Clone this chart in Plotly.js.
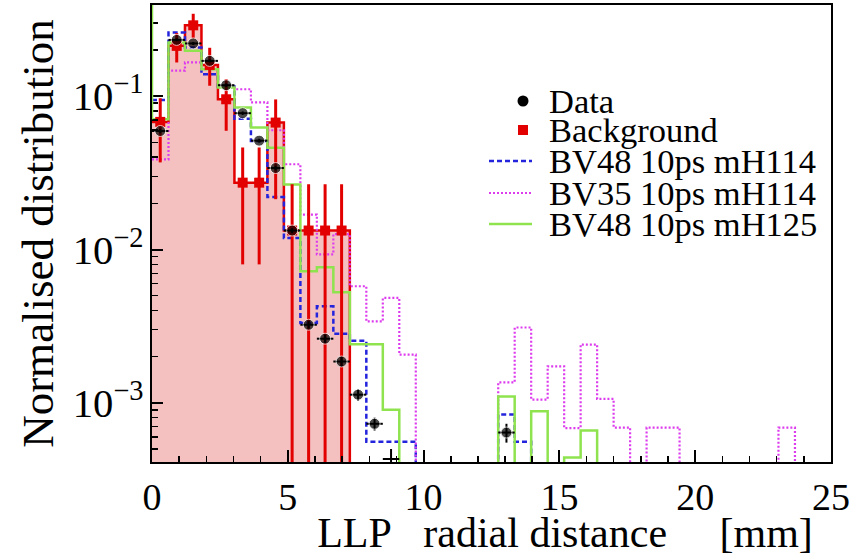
<!DOCTYPE html>
<html><head><meta charset="utf-8">
<script src="https://cdn.plot.ly/plotly-3.0.1.min.js"></script>
<style>html,body{margin:0;padding:0;background:#fff}</style>
</head><body><div id="chart" style="width:852px;height:556px"></div>
<script>
// ---- data ----
const BIN_WIDTH = 0.607;   // histogram bin width [mm]
const N_BINS = 41;

// Data points: bin index, normalised value, stat. error
const dataBins   = [0, 1, 2, 3, 4, 5, 6, 7, 8, 9, 10, 11, 12, 13, 14, 21];
const dataValues = [0.0593, 0.233, 0.221, 0.170, 0.118, 0.0775, 0.0513, 0.034, 0.0133, 0.00323, 0.00262, 0.00186, 0.00113, 0.00073, 0.00043, 0.00064];
const dataErrors = [0.002, 0.005, 0.005, 0.004, 0.003, 0.002, 0.0015, 0.0012, 0.0005, 0.00018, 0.00016, 0.00014, 0.0001, 0.00007, 0.00007, 0.00009];
const dataMarkerSizes = [11, 11, 11, 11, 11, 11, 11, 11, 11, 11, 11, 11, 11, 11, 0, 11];

// Background: bin index, value, asymmetric errors
const bkgBins    = [0, 1, 2, 3, 4, 5, 6, 7, 8, 9, 10, 11];
const bkgValues  = [0.068, 0.213, 0.29, 0.16, 0.0955, 0.0273, 0.0273, 0.0673, 0.0133, 0.0133, 0.0133, 0.0133];
const bkgErrUp   = [0.029, 0.045, 0.055, 0.047, 0.034, 0.019, 0.019, 0.028, 0.0134, 0.0134, 0.0134, 0.0134];
const bkgErrDown = [0.031, 0.047, 0.052, 0.043, 0.036, 0.0193, 0.0193, 0.046, 0.0134, 0.0134, 0.0134, 0.0134];

// Signal histograms, one value per bin (0 = empty bin)
const bv48mH114 = [0.0946, 0.26, 0.208, 0.139, 0.1155, 0.0714, 0.0511, 0.022, 0.0119, 0.00332,
                   0.00426, 0.00282, 0.00254, 0.000558, 0.000558, 0.000558, 0, 0, 0, 0,
                   0, 0.00084, 0.000558, 0, 0, 0, 0, 0, 0, 0,
                   0, 0, 0, 0, 0, 0, 0, 0, 0, 0, 0];
const bv35mH114 = [0.0387, 0.147, 0.166, 0.15, 0.114, 0.111, 0.0911, 0.06, 0.036, 0.0169,
                   0.0093, 0.0126, 0.00576, 0.0034, 0.00483, 0.00206, 0, 0, 0, 0,
                   0, 0.00136, 0.0031, 0.00105, 0.00173, 0.000684, 0.0024, 0.00106, 0.00069, 0,
                   0.00069, 0.00069, 0, 0, 0, 0, 0, 0, 0.00069, 0, 0];
const bv48mH125 = [0.0708, 0.224, 0.198, 0.15, 0.114, 0.0843, 0.0624, 0.0462, 0.0266, 0.00721,
                   0.00766, 0.00526, 0.00241, 0.00241, 0.0009, 0, 0, 0, 0, 0,
                   0, 0.0011, 0, 0.00088, 0, 0.00044, 0.00066, 0, 0, 0,
                   0, 0, 0, 0, 0, 0, 0, 0, 0, 0, 0];

const legendLabels = ['Data', 'Background', 'BV48 10ps mH114', 'BV35 10ps mH114', 'BV48 10ps mH125'];
const NB = '\u00a0';
const xTitleText = '\u200b' + NB.repeat(14) + 'LLP' + NB.repeat(3) + 'radial distance' + NB.repeat(5) + '[mm]';
const yTitleText = 'Normalised distribution';

// ---- styling ----
const FONT = "'Liberation Serif', 'Times New Roman', Times, serif";
const RED = '#e20000';
const PINK = 'rgb(245,192,192)';
const BLUE = '#2424dd';
const MAGENTA = '#dd3cee';
const GREEN = '#8fe34f';
const FLOOR = 1e-9;

function center(i) { return (i + 0.5) * BIN_WIDTH; }
function padBins(bins, vals) {
  const out = new Array(N_BINS).fill(0);
  bins.forEach((b, k) => { out[b] = vals[k]; });
  return out;
}
function stepXY(vals) {
  const xs = [], ys = [];
  for (let i = 0; i < N_BINS; i++) {
    xs.push(i * BIN_WIDTH);
    ys.push(vals[i] > 0 ? vals[i] : FLOOR);
  }
  xs.push(N_BINS * BIN_WIDTH);
  ys.push(ys[ys.length - 1]);
  return {x: xs, y: ys};
}

const bkgFull = padBins(bkgBins, bkgValues);
const bkgStep = stepXY(bkgFull);
const s1 = stepXY(bv48mH114), s2 = stepXY(bv35mH114), s3 = stepXY(bv48mH125);

const traces = [
  {type: 'bar', x: bkgBins.map(center), y: bkgValues, width: BIN_WIDTH,
   marker: {color: PINK, line: {width: 0}}, showlegend: false, hoverinfo: 'skip', name: 'Background fill'},
  {type: 'scatter', mode: 'lines', x: bkgStep.x, y: bkgStep.y, line: {color: RED, width: 2.5, shape: 'hv'},
   showlegend: false, name: 'Background outline'},
  {type: 'scatter', mode: 'lines', x: s1.x, y: s1.y, name: legendLabels[2],
   line: {color: BLUE, width: 2.5, shape: 'hv', dash: '5px,3px'}, showlegend: false},
  {type: 'scatter', mode: 'lines', x: s2.x, y: s2.y, name: legendLabels[3],
   line: {color: MAGENTA, width: 2.2, shape: 'hv', dash: '2px,2px'}, showlegend: false},
  {type: 'scatter', mode: 'lines', x: s3.x, y: s3.y, name: legendLabels[4],
   line: {color: GREEN, width: 2.5, shape: 'hv'}, showlegend: false},
  {type: 'scatter', mode: 'markers', x: bkgBins.map(center), y: bkgValues, name: legendLabels[1],
   marker: {symbol: 'square', size: 10, color: RED},
   error_y: {type: 'data', symmetric: false, array: bkgErrUp, arrayminus: bkgErrDown, color: RED, thickness: 3, width: 0},
   showlegend: false},
  {type: 'scatter', mode: 'markers', x: dataBins.map(center), y: dataValues, name: legendLabels[0],
   marker: {symbol: 'circle', size: dataMarkerSizes, color: 'black'},
   error_y: {type: 'data', array: dataErrors, color: 'black', thickness: 2, width: 0},
   error_x: {type: 'constant', value: BIN_WIDTH / 2, color: 'black', thickness: 2, width: 0},
   showlegend: false}
];

// ---- layout ----
const L = 152, R = 21, T = 5, B = 94, W = 852, H = 556;
const PW = W - L - R, PH = H - T - B;
const px2x = p => (p - L) / PW;
const px2y = p => (H - B - p) / PH;

const legendRowY = [101, 130, 161, 193, 224];
const legendTextX = 547, legendSymX = 523, legendLineX0 = 489, legendLineX1 = 532;

const annotations = legendLabels.map((t, i) => ({
  xref: 'paper', yref: 'paper', x: px2x(legendTextX), y: px2y(legendRowY[i]),
  xanchor: 'left', yanchor: 'middle', text: t, showarrow: false,
  font: {family: FONT, size: 34.5, color: 'black'}
}));

const shapes = [
  {type: 'line', xref: 'x', yref: 'y', x0: 0, x1: 0, y0: bv48mH125[0], y1: 1,
   line: {color: GREEN, width: 2.5}, layer: 'above'},
  {type: 'circle', xref: 'paper', yref: 'paper', xsizemode: 'pixel', ysizemode: 'pixel',
   xanchor: px2x(legendSymX), yanchor: px2y(legendRowY[0]), x0: -5.5, x1: 5.5, y0: -5.5, y1: 5.5,
   fillcolor: 'black', line: {width: 0}},
  {type: 'rect', xref: 'paper', yref: 'paper', xsizemode: 'pixel', ysizemode: 'pixel',
   xanchor: px2x(legendSymX), yanchor: px2y(legendRowY[1]), x0: -5, x1: 5, y0: -5, y1: 5,
   fillcolor: RED, line: {width: 0}},
  {type: 'line', xref: 'paper', yref: 'paper', x0: px2x(legendLineX0), x1: px2x(legendLineX1),
   y0: px2y(legendRowY[2]), y1: px2y(legendRowY[2]), line: {color: BLUE, width: 2.5, dash: '5px,3px'}},
  {type: 'line', xref: 'paper', yref: 'paper', x0: px2x(legendLineX0), x1: px2x(legendLineX1),
   y0: px2y(legendRowY[3]), y1: px2y(legendRowY[3]), line: {color: MAGENTA, width: 2.2, dash: '2px,2px'}},
  {type: 'line', xref: 'paper', yref: 'paper', x0: px2x(legendLineX0), x1: px2x(legendLineX1),
   y0: px2y(legendRowY[4]), y1: px2y(legendRowY[4]), line: {color: GREEN, width: 2.5}}
];

const layout = {
  width: W, height: H,
  margin: {l: L, r: R, t: T, b: B, pad: 0},
  paper_bgcolor: 'white', plot_bgcolor: 'white',
  showlegend: false,
  barmode: 'overlay', bargap: 0,
  font: {family: FONT, color: 'black'},
  xaxis: {
    range: [0, 25], tick0: 0, dtick: 5,
    showline: true, linecolor: 'black', linewidth: 2, mirror: true,
    ticks: 'inside', ticklen: 12, tickwidth: 2, tickcolor: 'black',
    minor: {dtick: 1, ticks: 'inside', ticklen: 6, tickwidth: 1.5, tickcolor: 'black', showgrid: false},
    showgrid: false, zeroline: false,
    tickfont: {family: FONT, size: 38, color: 'black'},
    title: {text: xTitleText, font: {family: FONT, size: 42, color: 'black'}, standoff: 12}
  },
  yaxis: {
    type: 'log', range: [-3.386, -0.405], dtick: 1, exponentformat: 'power',
    showline: true, linecolor: 'black', linewidth: 2, mirror: true,
    ticks: 'inside', ticklen: 11, tickwidth: 2, tickcolor: 'black',
    minor: {dtick: 'D1', ticks: 'inside', ticklen: 6, tickwidth: 1.5, tickcolor: 'black', showgrid: false},
    showgrid: false, zeroline: false,
    tickfont: {family: FONT, size: 32.5, color: 'black'},
    title: {text: yTitleText, font: {family: FONT, size: 45, color: 'black'}, standoff: 5}
  },
  annotations: annotations,
  shapes: shapes
};

Plotly.newPlot('chart', traces, layout, {staticPlot: true, displayModeBar: false});
</script>
</body></html>
